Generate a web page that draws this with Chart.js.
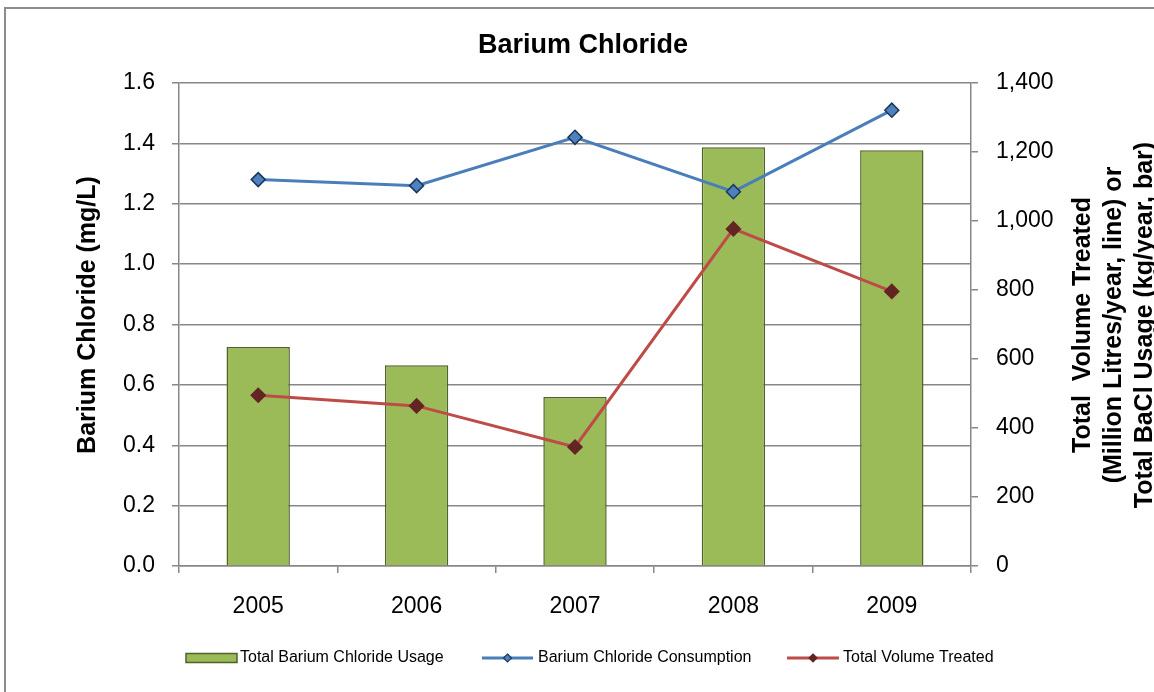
<!DOCTYPE html>
<html>
<head>
<meta charset="utf-8">
<title>Barium Chloride</title>
<script src="https://cdn.jsdelivr.net/npm/chart.js@4/dist/chart.umd.min.js"></script>
<style>
  html, body { margin: 0; padding: 0; background: #fff; }
  #wrap { width: 1154px; height: 692px; position: relative; }
</style>
</head>
<body>
<div id="wrap"><canvas id="chart"></canvas></div>
<script>
'use strict';

/* ── Data ────────────────────────────────────────────────── */

const YEARS = ['2005', '2006', '2007', '2008', '2009'];

// kg/year, drawn as bars on the right axis
const BACL_USAGE = [635, 582, 490, 1214, 1205];

// mg/L, left axis
const BACL_CONSUMPTION = [1.28, 1.26, 1.42, 1.24, 1.51];

// Million litres/year, right axis
const VOLUME_TREATED = [495, 464, 345, 977, 796];

const LEFT_TITLE = 'Barium Chloride (mg/L)';
const RIGHT_TITLE = [
  'Total  Volume Treated',
  '(Million Litres/year, line) or',
  'Total BaCl Usage (kg/year, bar)',
];

/* ── Styling ─────────────────────────────────────────────── */

const FONT = '"Liberation Sans", Arial, Helvetica, sans-serif';
const AXIS_GRAY = '#878787';

const COLORS = {
  bar:       '#9BBB59',
  barEdge:   '#4F6228',
  blue:      '#4A7EBB',
  blueFill:  '#4F81BD',
  blueEdge:  '#17375E',
  red:       '#BE4B48',
  redMarker: '#632523',
};

Chart.defaults.font.family = FONT;
Chart.defaults.color = '#000';

function diamond(ctx, x, y, r, fill, stroke) {
  ctx.beginPath();
  ctx.moveTo(x, y - r);
  ctx.lineTo(x + r, y);
  ctx.lineTo(x, y + r);
  ctx.lineTo(x - r, y);
  ctx.closePath();
  ctx.fillStyle = fill;
  ctx.fill();
  ctx.strokeStyle = stroke;
  ctx.lineWidth = 1.2;
  ctx.stroke();
}

/* ── Frame, titles and legend ────────────────────────────── */

const decorations = {
  id: 'decorations',
  beforeDraw(chart) {
    const { ctx, width, height } = chart;
    ctx.save();
    ctx.fillStyle = '#fff';
    ctx.fillRect(0, 0, width, height);
    // outer frame (right and bottom run past the canvas)
    ctx.strokeStyle = '#8c8c8c';
    ctx.lineWidth = 2;
    ctx.strokeRect(5, 8, width + 20, height + 20);
    ctx.restore();
  },
  afterDraw(chart) {
    const { ctx } = chart;
    ctx.save();
    ctx.fillStyle = '#000';
    ctx.textBaseline = 'alphabetic';

    // chart title
    ctx.font = `bold 27px ${FONT}`;
    ctx.textAlign = 'center';
    ctx.fillText('Barium Chloride', 583, 53);

    // left axis title
    ctx.font = `bold 25px ${FONT}`;
    ctx.save();
    ctx.translate(95, 315);
    ctx.rotate(-Math.PI / 2);
    ctx.fillText(LEFT_TITLE, 0, 0);
    ctx.restore();

    // right axis title, three lines
    const baselines = [1090, 1121, 1152];
    RIGHT_TITLE.forEach((line, i) => {
      ctx.save();
      ctx.translate(baselines[i], 325);
      ctx.rotate(-Math.PI / 2);
      ctx.fillText(line, 0, 0);
      ctx.restore();
    });

    // legend
    const ly = 658;
    ctx.font = `16px ${FONT}`;
    ctx.textAlign = 'left';
    ctx.textBaseline = 'middle';

    ctx.fillStyle = COLORS.bar;
    ctx.fillRect(186, ly - 4.5, 51, 9);
    ctx.strokeStyle = COLORS.barEdge;
    ctx.lineWidth = 1.5;
    ctx.strokeRect(186, ly - 4.5, 51, 9);
    ctx.fillStyle = '#000';
    ctx.fillText('Total Barium Chloride Usage', 240, ly);

    ctx.strokeStyle = COLORS.blue;
    ctx.lineWidth = 3;
    ctx.beginPath();
    ctx.moveTo(482, ly);
    ctx.lineTo(533, ly);
    ctx.stroke();
    diamond(ctx, 507.5, ly, 4, COLORS.blueFill, COLORS.blueEdge);
    ctx.fillStyle = '#000';
    ctx.fillText('Barium Chloride Consumption', 538, ly);

    ctx.strokeStyle = COLORS.red;
    ctx.lineWidth = 3;
    ctx.beginPath();
    ctx.moveTo(787, ly);
    ctx.lineTo(839, ly);
    ctx.stroke();
    diamond(ctx, 813, ly, 4, COLORS.redMarker, COLORS.redMarker);
    ctx.fillStyle = '#000';
    ctx.fillText('Total Volume Treated', 843, ly);

    ctx.restore();
  },
};

/* ── Chart ───────────────────────────────────────────────── */

const lineOpts = {
  type: 'line',
  borderWidth: 3,
  pointStyle: 'rectRot',
  pointRadius: 7,
  pointHoverRadius: 7,
  pointBorderWidth: 1.5,
  tension: 0,
  fill: false,
};

new Chart(document.getElementById('chart'), {
  type: 'bar',
  data: {
    labels: YEARS,
    datasets: [
      {
        ...lineOpts,
        label: 'Barium Chloride Consumption',
        data: BACL_CONSUMPTION,
        yAxisID: 'y',
        borderColor: COLORS.blue,
        pointBackgroundColor: COLORS.blueFill,
        pointBorderColor: COLORS.blueEdge,
        order: 2,
      },
      {
        ...lineOpts,
        label: 'Total Volume Treated',
        data: VOLUME_TREATED,
        yAxisID: 'y2',
        borderColor: COLORS.red,
        pointBackgroundColor: COLORS.redMarker,
        pointBorderColor: COLORS.redMarker,
        order: 1,
      },
      {
        label: 'Total Barium Chloride Usage',
        data: BACL_USAGE,
        yAxisID: 'y2',
        backgroundColor: COLORS.bar,
        borderColor: COLORS.barEdge,
        borderWidth: 1.5,
        categoryPercentage: 0.8,
        barPercentage: 0.5,
        order: 3,
      },
    ],
  },
  options: {
    responsive: true,
    maintainAspectRatio: false,
    animation: false,
    layout: { padding: { top: 83, left: 0, right: 0, bottom: 0 } },
    plugins: {
      legend: { display: false },
      title: { display: false },
      tooltip: { enabled: false },
    },
    scales: {
      x: {
        offset: true,
        grid: {
          offset: true,
          drawOnChartArea: false,
          tickLength: 7,
          color: AXIS_GRAY,
          lineWidth: 1.5,
        },
        border: { color: AXIS_GRAY, width: 1.5 },
        ticks: { font: { size: 23 }, padding: 20, color: '#000' },
        afterFit(scale) { scale.height = 126; },
      },
      y: {
        position: 'left',
        min: 0,
        max: 1.6,
        ticks: {
          stepSize: 0.2,
          font: { size: 23 },
          padding: 17,
          color: '#000',
          callback: v => v.toFixed(1),
        },
        grid: { color: AXIS_GRAY, lineWidth: 1.5, tickLength: 7 },
        border: { color: AXIS_GRAY, width: 1.5 },
        afterFit(scale) { scale.width = 179; },
      },
      y2: {
        position: 'right',
        min: 0,
        max: 1400,
        ticks: {
          stepSize: 200,
          font: { size: 23 },
          padding: 18,
          color: '#000',
          callback: v => v.toLocaleString('en-US'),
        },
        grid: {
          drawOnChartArea: false,
          color: AXIS_GRAY,
          lineWidth: 1.5,
          tickLength: 7,
        },
        border: { color: AXIS_GRAY, width: 1.5 },
        afterFit(scale) { scale.width = 183; },
      },
    },
  },
  plugins: [decorations],
});
</script>
</body>
</html>
